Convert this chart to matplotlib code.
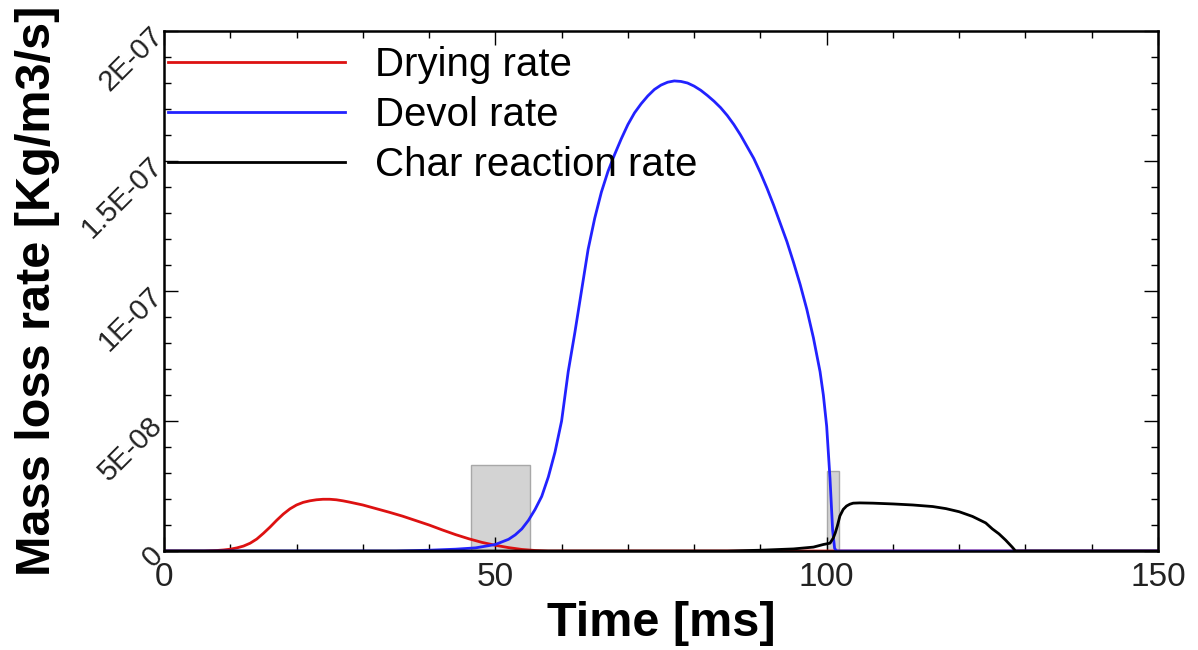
import matplotlib
matplotlib.use("Agg")
import matplotlib.pyplot as plt
from matplotlib.ticker import MultipleLocator

# ---------------- data (rates in units of 1E-08 kg/m3/s) ----------------
SCALE = 1e-8

drying_t = [0, 6, 8, 9, 10, 11, 12, 13, 14, 15, 16, 17, 18, 19, 20, 21, 22, 23, 24, 25,
            26, 27, 28, 30, 32, 34, 36, 38, 40, 42, 44, 46, 48, 50, 52, 54, 56, 58, 150]
drying_v = [0, 0, 0.02, 0.04, 0.07, 0.12, 0.19, 0.30, 0.46, 0.68, 0.92, 1.18, 1.42, 1.62,
            1.77, 1.87, 1.93, 1.97, 1.99, 1.99, 1.97, 1.93, 1.88, 1.77, 1.63, 1.49, 1.34,
            1.17, 1.00, 0.81, 0.63, 0.47, 0.33, 0.22, 0.13, 0.06, 0.02, 0, 0]

devol_t = [0, 35, 40, 44, 47, 50, 52, 53, 54, 55, 56, 57, 58, 59, 60, 61, 62, 63, 64, 65,
           66, 67, 68, 69, 70, 71, 72, 73, 74, 75, 76, 77, 78, 79, 80, 81, 82, 83, 84, 85,
           86, 87, 88, 89, 90, 91, 92, 93, 94, 95, 96, 97, 98, 99, 99.5, 100, 100.5, 100.9,
           101.2, 101.5, 150]
devol_v = [0, 0, 0.03, 0.07, 0.12, 0.25, 0.45, 0.62, 0.85, 1.18, 1.60, 2.10, 2.85, 3.80,
           5.00, 6.90, 8.40, 10.0, 11.6, 12.8, 13.8, 14.6, 15.25, 15.85, 16.4, 16.85, 17.2,
           17.5, 17.75, 17.92, 18.03, 18.08, 18.06, 18.0, 17.88, 17.72, 17.52, 17.3, 17.05,
           16.75, 16.4, 16.0, 15.55, 15.1, 14.55, 13.95, 13.3, 12.6, 11.9, 11.1, 10.25, 9.3,
           8.2, 6.9, 6.0, 4.8, 2.8, 0.8, 0.1, 0, 0]

char_t = [0, 85, 90, 95, 98, 99.5, 100.5, 101, 101.3, 101.6, 102, 102.5, 103, 103.5, 104,
          105, 107, 110, 113, 116, 118, 120, 122, 124, 125, 126, 127, 128, 128.5, 150]
char_v = [0, 0, 0.03, 0.08, 0.15, 0.25, 0.30, 0.50, 0.70, 0.95, 1.35, 1.60, 1.73, 1.80,
          1.84, 1.85, 1.84, 1.81, 1.77, 1.71, 1.63, 1.51, 1.33, 1.08, 0.85, 0.66, 0.42,
          0.15, 0, 0]

# highlighted windows (gray boxes): start, end [ms], height
box_start = [46.3, 100.1]
box_end = [55.2, 101.8]
box_top = [3.3, 3.08]

series_labels = ["Drying rate", "Devol rate", "Char reaction rate"]
series_colors = ["#dd1111", "#2222ff", "#000000"]

x_ticks = [0, 50, 100, 150]
x_ticklabels = ["0", "50", "100", "150"]
y_ticks = [0, 5e-8, 1e-7, 1.5e-7, 2e-7]
y_ticklabels = ["0", "5E-08", "1E-07", "1.5E-07", "2E-07"]

# ---------------- figure ----------------
plt.rcParams['font.family'] = ['Liberation Sans', 'DejaVu Sans']
fig = plt.figure(figsize=(11.98, 6.5), dpi=100)
ax = fig.add_axes([164 / 1198, 1 - 551 / 650, (1158 - 164) / 1198, (551 - 31) / 650])

for s, e, h in zip(box_start, box_end, box_top):
    ax.bar(s, h * SCALE, width=e - s, align='edge', color='#d3d3d3',
           edgecolor='#a8a8a8', linewidth=1.0, zorder=1)

for t, v, lab, c in zip([drying_t, devol_t, char_t], [drying_v, devol_v, char_v],
                        series_labels, series_colors):
    ax.plot(t, [val * SCALE for val in v], color=c, lw=2.0, label=lab, zorder=2)

ax.set_xlim(0, 150)
ax.set_ylim(0, 2e-7)

ax.set_xticks(x_ticks)
ax.set_xticklabels(x_ticklabels)
ax.set_yticks(y_ticks)
ax.set_yticklabels(y_ticklabels, rotation=45, ha='right', va='center',
                   rotation_mode='anchor')
ax.xaxis.set_minor_locator(MultipleLocator(10))
ax.yaxis.set_minor_locator(MultipleLocator(1e-8))

ax.tick_params(which='both', direction='in', top=True, right=True, width=1.0,
               colors='#000000', labelcolor='#222222')
ax.tick_params(which='major', length=10)
ax.tick_params(which='minor', length=5)
ax.tick_params(axis='x', labelsize=24, pad=8)
ax.tick_params(axis='y', labelsize=21, pad=4)

for sp in ax.spines.values():
    sp.set_linewidth(1.8)

ax.set_xlabel("Time [ms]", fontsize=35, fontweight='bold', labelpad=6)
ax.set_ylabel("Mass loss rate [Kg/m3/s]", fontsize=35, fontweight='bold', labelpad=12)

ax.legend(loc='upper left', bbox_to_anchor=(0.0, 0.979), frameon=False, fontsize=29,
          handlelength=4.4, handletextpad=0.75, labelspacing=0.3,
          borderaxespad=0.1, borderpad=0.0)

fig.savefig("out.png", dpi=100)
